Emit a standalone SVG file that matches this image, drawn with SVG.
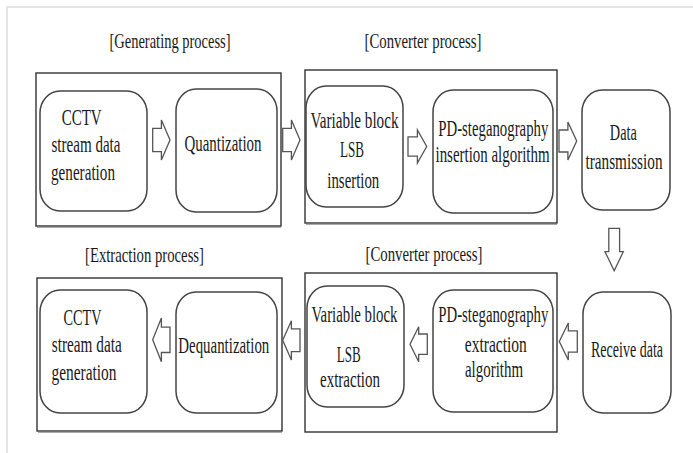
<svg xmlns="http://www.w3.org/2000/svg" width="693" height="453" viewBox="0 0 693 453">
<style>
  .frame { fill: none; stroke: #dddddd; stroke-width: 1.5; }
  .group { fill: none; stroke: #333333; stroke-width: 1.4; }
  .shadow { fill: none; stroke: #aaaaaa; stroke-width: 1.2; }
  .node { fill: #ffffff; stroke: #444444; stroke-width: 1.5; }
  .arrow { fill: #ffffff; stroke: #555555; stroke-width: 1.3; stroke-linejoin: miter; }
  text { font-family: "Liberation Serif", "Times New Roman", serif; fill: #1a1a1a; text-anchor: middle; }
  .lbl { font-size: 23px; }
  .hdr { font-size: 21px; }
</style>
<rect width="693" height="453" fill="#ffffff"/>
<polyline class="frame" points="693,7 7,7 7,453"/>

<g id="group-generating">
  <rect class="group" x="36" y="73" width="245" height="153"/>
  <line class="shadow" x1="37" y1="227.5" x2="281" y2="227.5"/>
  <text class="hdr" x="170" y="48" textLength="121" lengthAdjust="spacingAndGlyphs">[Generating process]</text>
</g>
<g id="group-converter-top">
  <rect class="group" x="305" y="70" width="252" height="153"/>
  <line class="shadow" x1="306" y1="224.5" x2="557" y2="224.5"/>
  <text class="hdr" x="423" y="48" textLength="117" lengthAdjust="spacingAndGlyphs">[Converter process]</text>
</g>
<g id="group-extraction">
  <rect class="group" x="37" y="278" width="245" height="153"/>
  <line class="shadow" x1="38" y1="432.5" x2="282" y2="432.5"/>
  <text class="hdr" x="144.5" y="262" textLength="119" lengthAdjust="spacingAndGlyphs">[Extraction process]</text>
</g>
<g id="group-converter-bottom">
  <rect class="group" x="305" y="273" width="252" height="159"/>
  <text class="hdr" x="424" y="261" textLength="117" lengthAdjust="spacingAndGlyphs">[Converter process]</text>
</g>

<g id="connectors">
  <polygon class="arrow" points="152.7,128.4 161.4,128.4 161.4,120 170,140 161.4,160 161.4,151.6 152.7,151.6"/>
  <polygon class="arrow" points="282.7,128.4 291.4,128.4 291.4,120 300,140 291.4,160 291.4,151.6 282.7,151.6"/>
  <polygon class="arrow" points="408,136.9 417.4,136.9 417.4,130 426.7,146.5 417.4,163 417.4,156.1 408,156.1"/>
  <polygon class="arrow" points="559,130 567.9,130 567.9,122 576.7,141 567.9,160 567.9,152 559,152"/>
  <polygon class="arrow" points="608.8,228.3 619.6,228.3 619.6,251.7 623.3,251.7 614.2,270.7 605,251.7 608.8,251.7"/>
  <polygon class="arrow" points="577.3,330.8 568.3,330.8 568.3,323 559.3,341.5 568.3,360 568.3,352.2 577.3,352.2"/>
  <polygon class="arrow" points="427.3,334 418.7,334 418.7,326.7 410,344.2 418.7,361.7 418.7,354.4 427.3,354.4"/>
  <polygon class="arrow" points="300,328.9 291.4,328.9 291.4,320.7 282.7,340.3 291.4,360 291.4,351.7 300,351.7"/>
  <polygon class="arrow" points="170,327.1 161.4,327.1 161.4,318 152.7,339.8 161.4,361.7 161.4,352.5 170,352.5"/>
</g>

<g id="cctv-gen">
  <rect class="node" x="40" y="91" width="107" height="120" rx="20" ry="22"/>
  <text class="lbl" x="81.7" y="125" textLength="40" lengthAdjust="spacingAndGlyphs">CCTV</text>
  <text class="lbl" x="86" y="152" textLength="69" lengthAdjust="spacingAndGlyphs">stream data</text>
  <text class="lbl" x="83" y="180" textLength="64" lengthAdjust="spacingAndGlyphs">generation</text>
</g>
<g id="quantization">
  <rect class="node" x="176" y="89" width="101" height="123" rx="20" ry="22"/>
  <text class="lbl" x="223" y="151" textLength="77" lengthAdjust="spacingAndGlyphs">Quantization</text>
</g>
<g id="lsb-insertion">
  <rect class="node" x="306" y="86" width="97" height="121" rx="20" ry="22"/>
  <text class="lbl" x="354.5" y="128" textLength="88" lengthAdjust="spacingAndGlyphs">Variable block</text>
  <text class="lbl" x="352" y="157" textLength="24" lengthAdjust="spacingAndGlyphs">LSB</text>
  <text class="lbl" x="353.3" y="188" textLength="52" lengthAdjust="spacingAndGlyphs">insertion</text>
</g>
<g id="pd-insertion">
  <rect class="node" x="433" y="90" width="120" height="123" rx="20" ry="22"/>
  <text class="lbl" x="493.3" y="136" textLength="110" lengthAdjust="spacingAndGlyphs">PD-steganography</text>
  <text class="lbl" x="492.5" y="162" textLength="114" lengthAdjust="spacingAndGlyphs">insertion algorithm</text>
</g>
<g id="data-transmission">
  <rect class="node" x="582" y="90" width="88" height="120" rx="20" ry="22"/>
  <text class="lbl" x="623.3" y="140" textLength="27" lengthAdjust="spacingAndGlyphs">Data</text>
  <text class="lbl" x="624" y="169" textLength="77" lengthAdjust="spacingAndGlyphs">transmission</text>
</g>

<g id="receive-data">
  <rect class="node" x="583" y="292" width="88" height="121" rx="20" ry="22"/>
  <text class="lbl" x="627" y="357" textLength="72" lengthAdjust="spacingAndGlyphs">Receive data</text>
</g>
<g id="pd-extraction">
  <rect class="node" x="433" y="290" width="120" height="122" rx="20" ry="22"/>
  <text class="lbl" x="493.3" y="322" textLength="110" lengthAdjust="spacingAndGlyphs">PD-steganography</text>
  <text class="lbl" x="495.8" y="352" textLength="62" lengthAdjust="spacingAndGlyphs">extraction</text>
  <text class="lbl" x="494" y="377" textLength="58" lengthAdjust="spacingAndGlyphs">algorithm</text>
</g>
<g id="lsb-extraction">
  <rect class="node" x="307" y="286" width="97" height="121" rx="20" ry="22"/>
  <text class="lbl" x="354.5" y="322" textLength="86" lengthAdjust="spacingAndGlyphs">Variable block</text>
  <text class="lbl" x="348.7" y="362" textLength="24" lengthAdjust="spacingAndGlyphs">LSB</text>
  <text class="lbl" x="350" y="387" textLength="60" lengthAdjust="spacingAndGlyphs">extraction</text>
</g>
<g id="dequantization">
  <rect class="node" x="176" y="292" width="101" height="121" rx="20" ry="22"/>
  <text class="lbl" x="223.8" y="353" textLength="91" lengthAdjust="spacingAndGlyphs">Dequantization</text>
</g>
<g id="cctv-out">
  <rect class="node" x="40" y="290" width="107" height="123" rx="20" ry="22"/>
  <text class="lbl" x="82.5" y="325" textLength="38" lengthAdjust="spacingAndGlyphs">CCTV</text>
  <text class="lbl" x="86.7" y="352" textLength="70" lengthAdjust="spacingAndGlyphs">stream data</text>
  <text class="lbl" x="84" y="380" textLength="65" lengthAdjust="spacingAndGlyphs">generation</text>
</g>
</svg>
